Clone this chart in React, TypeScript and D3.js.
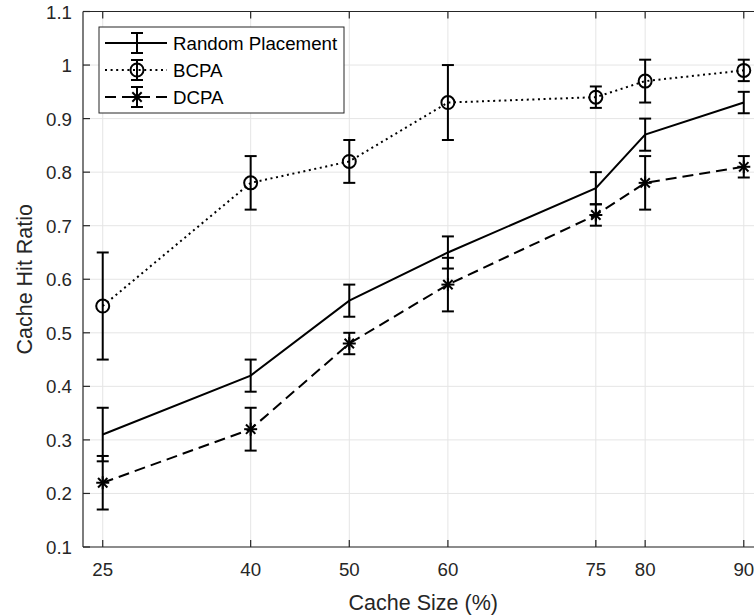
import React from "react";
import * as d3 from "d3";

const cacheSizes = [25, 40, 50, 60, 75, 80, 90];
const randomMean = [0.31, 0.42, 0.56, 0.65, 0.77, 0.87, 0.93];
const randomLow = [0.26, 0.39, 0.53, 0.62, 0.74, 0.84, 0.91];
const randomHigh = [0.36, 0.45, 0.59, 0.68, 0.8, 0.9, 0.95];
const bcpaMean = [0.55, 0.78, 0.82, 0.93, 0.94, 0.97, 0.99];
const bcpaLow = [0.45, 0.73, 0.78, 0.86, 0.92, 0.93, 0.97];
const bcpaHigh = [0.65, 0.83, 0.86, 1.0, 0.96, 1.01, 1.01];
const dcpaMean = [0.22, 0.32, 0.48, 0.59, 0.72, 0.78, 0.81];
const dcpaLow = [0.17, 0.28, 0.46, 0.54, 0.7, 0.73, 0.79];
const dcpaHigh = [0.27, 0.36, 0.5, 0.64, 0.74, 0.83, 0.83];
const yTicks = [0.1, 0.2, 0.3, 0.4, 0.5, 0.6, 0.7, 0.8, 0.9, 1.0, 1.1];
const seriesNames = ["Random Placement", "BCPA", "DCPA"];

const W = 754;
const H = 616;
const L = 83;
const R = 763.5;
const T = 11.5;
const B = 547;
const FONT = "'Liberation Sans', Arial, Helvetica, sans-serif";
const AX = "#262626";
const GRID = "#e5e5e5";

type Marker = "none" | "circle" | "star";

function MarkerShape({ x, y, kind }: { x: number; y: number; kind: Marker }) {
  if (kind === "circle") {
    return <circle cx={x} cy={y} r={6.5} fill="none" stroke="#000" strokeWidth={2} />;
  }
  if (kind === "star") {
    const s = 6.5;
    const d = s * 0.72;
    return (
      <g stroke="#000" strokeWidth={2}>
        <line x1={x - s} y1={y} x2={x + s} y2={y} />
        <line x1={x} y1={y - s} x2={x} y2={y + s} />
        <line x1={x - d} y1={y - d} x2={x + d} y2={y + d} />
        <line x1={x - d} y1={y + d} x2={x + d} y2={y - d} />
      </g>
    );
  }
  return null;
}

export default function App() {
  const x = d3.scaleLinear().domain([23, 92]).range([L, R]);
  const y = d3.scaleLinear().domain([0.1, 1.1]).range([B, T]);

  const series = [
    { name: seriesNames[0], mean: randomMean, low: randomLow, high: randomHigh, dash: "", marker: "none" as Marker },
    { name: seriesNames[1], mean: bcpaMean, low: bcpaLow, high: bcpaHigh, dash: "2,3.6", marker: "circle" as Marker },
    { name: seriesNames[2], mean: dcpaMean, low: dcpaLow, high: dcpaHigh, dash: "11,6", marker: "star" as Marker },
  ];

  const line = d3
    .line<number>()
    .x((_, i) => x(cacheSizes[i]))
    .y((d) => y(d));

  const cap = 6;
  const legX = 99;
  const legY = 27;
  const legW = 245;
  const legH = 86;
  const rowY = [43, 70, 97];

  return (
    <svg
      width={W}
      height={H}
      style={{ position: "absolute", left: 0, top: 0, background: "#fff" }}
      fontFamily={FONT}
    >
      <rect x={0} y={0} width={W} height={H} fill="#fff" />
      {/* grid */}
      <g stroke={GRID} strokeWidth={1}>
        {cacheSizes.map((c) => (
          <line key={"gx" + c} x1={x(c)} x2={x(c)} y1={T} y2={B} />
        ))}
        {yTicks.map((t) => (
          <line key={"gy" + t} x1={L} x2={R} y1={y(t)} y2={y(t)} />
        ))}
      </g>
      {/* axes box */}
      <g stroke={AX} strokeWidth={1.2} fill="none">
        <line x1={L} x2={R} y1={B} y2={B} />
        <line x1={L} x2={R} y1={T} y2={T} />
        <line x1={L} x2={L} y1={T} y2={B} />
        <line x1={R} x2={R} y1={T} y2={B} />
        {cacheSizes.map((c) => (
          <g key={"tx" + c}>
            <line x1={x(c)} x2={x(c)} y1={B} y2={B - 7} />
            <line x1={x(c)} x2={x(c)} y1={T} y2={T + 7} />
          </g>
        ))}
        {yTicks.map((t) => (
          <g key={"ty" + t}>
            <line x1={L} x2={L + 7} y1={y(t)} y2={y(t)} />
            <line x1={R} x2={R - 7} y1={y(t)} y2={y(t)} />
          </g>
        ))}
      </g>
      {/* tick labels */}
      <g fill={AX} fontSize={18.7}>
        {cacheSizes.map((c) => (
          <text key={"lx" + c} x={x(c)} y={B + 29} textAnchor="middle">
            {c}
          </text>
        ))}
        {yTicks.map((t) => (
          <text key={"ly" + t} x={72} y={y(t) + 7} textAnchor="end">
            {d3.format("~g")(+t.toFixed(1))}
          </text>
        ))}
      </g>
      <text x={(L + R) / 2} y={610} textAnchor="middle" fontSize={21.5} fill={AX}>
        Cache Size (%)
      </text>
      <text
        transform={`translate(32,${(T + B) / 2}) rotate(-90)`}
        textAnchor="middle"
        fontSize={21.5}
        fill={AX}
      >
        Cache Hit Ratio
      </text>
      {/* series */}
      {series.map((s) => (
        <g key={s.name}>
          <path d={line(s.mean) || ""} fill="none" stroke="#000" strokeWidth={2} strokeDasharray={s.dash || undefined} />
          <g stroke="#000" strokeWidth={2}>
            {cacheSizes.map((c, i) => (
              <g key={"e" + c}>
                <line x1={x(c)} x2={x(c)} y1={y(s.low[i])} y2={y(s.high[i])} />
                <line x1={x(c) - cap} x2={x(c) + cap} y1={y(s.low[i])} y2={y(s.low[i])} />
                <line x1={x(c) - cap} x2={x(c) + cap} y1={y(s.high[i])} y2={y(s.high[i])} />
              </g>
            ))}
          </g>
          {cacheSizes.map((c, i) => (
            <MarkerShape key={"m" + c} x={x(c)} y={y(s.mean[i])} kind={s.marker} />
          ))}
        </g>
      ))}
      {/* legend */}
      <g>
        <rect x={legX} y={legY} width={legW} height={legH} fill="#fff" stroke={AX} strokeWidth={1} />
        {series.map((s, i) => (
          <g key={"leg" + s.name}>
            <line x1={105} x2={167} y1={rowY[i]} y2={rowY[i]} stroke="#000" strokeWidth={2} strokeDasharray={s.dash || undefined} />
            <g stroke="#000" strokeWidth={2}>
              <line x1={137} x2={137} y1={rowY[i] - 10} y2={rowY[i] + 10} />
              <line x1={131} x2={143} y1={rowY[i] - 10} y2={rowY[i] - 10} />
              <line x1={131} x2={143} y1={rowY[i] + 10} y2={rowY[i] + 10} />
            </g>
            <MarkerShape x={137} y={rowY[i]} kind={s.marker} />
            <text x={173} y={rowY[i] + 7} fontSize={18.7} fill="#000">
              {s.name}
            </text>
          </g>
        ))}
      </g>
    </svg>
  );
}
